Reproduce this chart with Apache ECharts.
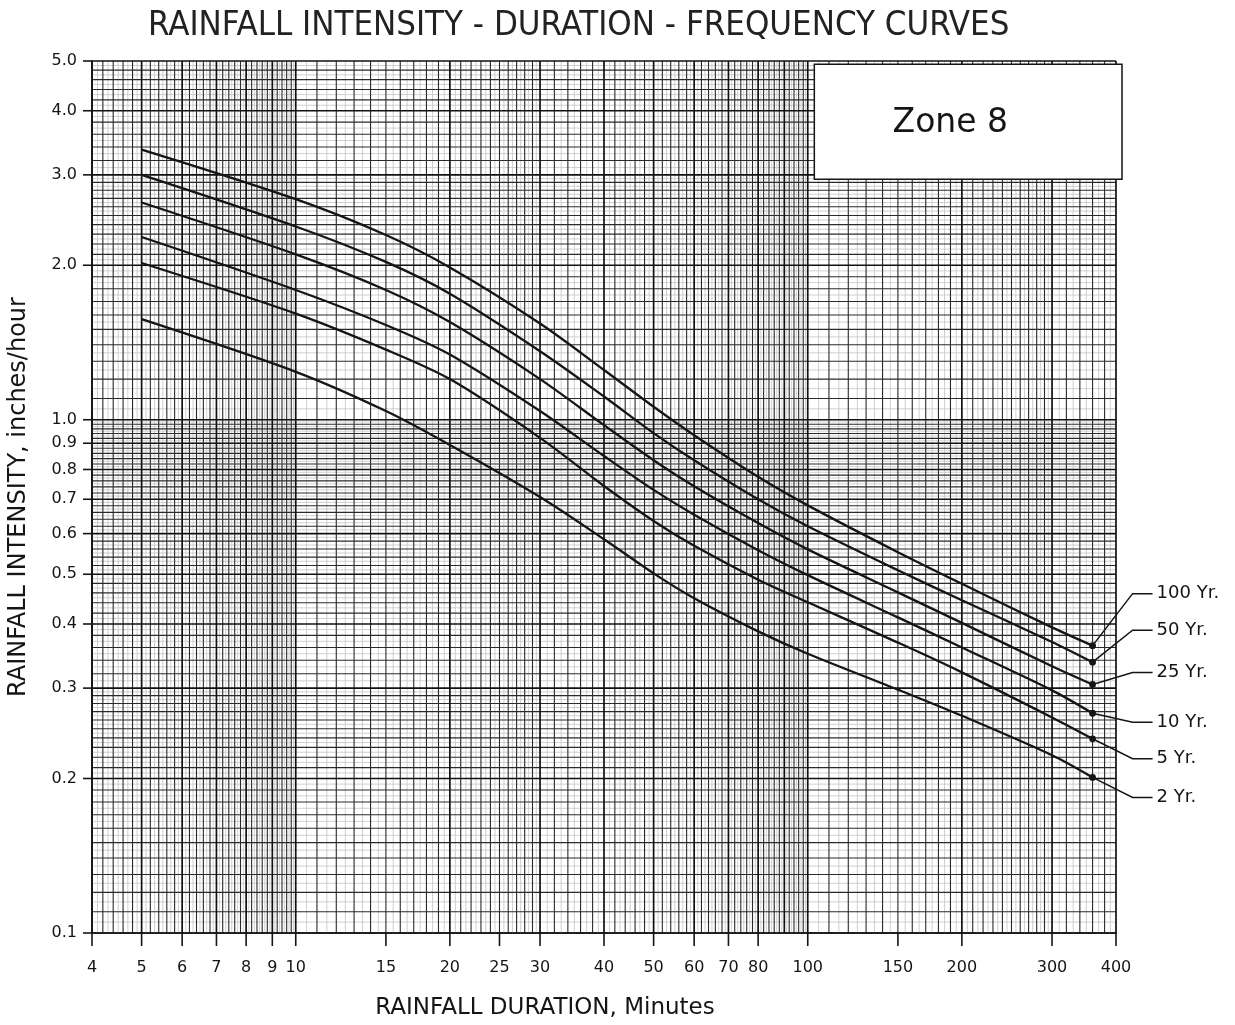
<!DOCTYPE html>
<html>
<head>
<meta charset="utf-8">
<title>Rainfall Intensity - Duration - Frequency Curves, Zone 8</title>
<script src="https://cdn.jsdelivr.net/npm/echarts@6.0.0/dist/echarts.min.js"></script>
<style>
  html, body { margin: 0; padding: 0; background: #fff; }
  #chart { width: 1235px; height: 1025px; }
</style>
</head>
<body>
<div id="chart"></div>
<script>
// durations in minutes, intensities in inches/hour
const durations = [5, 10, 15, 20, 30, 40, 50, 60, 80, 100, 150, 200, 300, 360];
const yr100 = [3.36, 2.69, 2.29, 1.98, 1.54, 1.25, 1.06, 0.933, 0.774, 0.681, 0.552, 0.479, 0.394, 0.363];
const yr50 = [3.00, 2.38, 2.03, 1.76, 1.36, 1.11, 0.942, 0.834, 0.700, 0.620, 0.509, 0.445, 0.369, 0.337];
const yr25 = [2.65, 2.10, 1.79, 1.55, 1.20, 0.976, 0.834, 0.742, 0.629, 0.559, 0.461, 0.402, 0.331, 0.305];
const yr10 = [2.27, 1.79, 1.53, 1.34, 1.04, 0.850, 0.730, 0.653, 0.557, 0.498, 0.412, 0.360, 0.297, 0.268];
const yr5 = [2.02, 1.61, 1.37, 1.20, 0.922, 0.743, 0.635, 0.568, 0.488, 0.441, 0.368, 0.322, 0.263, 0.239];
const yr2 = [1.57, 1.24, 1.04, 0.893, 0.707, 0.585, 0.502, 0.449, 0.387, 0.350, 0.298, 0.265, 0.222, 0.201];

const curveNames = ['100 Yr.', '50 Yr.', '25 Yr.', '10 Yr.', '5 Yr.', '2 Yr.'];
const curveData = [yr100, yr50, yr25, yr10, yr5, yr2];

const xTickValues = [4, 5, 6, 7, 8, 9, 10, 15, 20, 25, 30, 40, 50, 60, 70, 80, 100, 150, 200, 300, 400];
const yTickValues = [0.1, 0.2, 0.3, 0.4, 0.5, 0.6, 0.7, 0.8, 0.9, 1.0, 2.0, 3.0, 4.0, 5.0];

// log graph paper rulings: [from, to, step]
const xRulings = [[4, 10, 0.2], [10, 30, 1], [30, 100, 2], [100, 300, 10], [300, 400, 20]];
const yRulings = [[0.1, 0.3, 0.01], [0.3, 1, 0.02], [1, 3, 0.1], [3, 5, 0.2]];

const zoneBox = { x: [103, 400], y: [2.94, 4.93] };

const X_MIN = 4, X_MAX = 400, Y_MIN = 0.1, Y_MAX = 5;
const INK = '#151515';
const FONT = 'DejaVu Sans';

// leader line offsets for the end labels (px, from the end dot)
const labelDy = [-52, -32, -12, 9, 20, 20];

function rulingValues(bands, div) {
  const out = [];
  bands.forEach(function (b) {
    const step = b[2] / div;
    const n = Math.round((b[1] - b[0]) / step);
    for (let k = 0; k < n; k++) out.push(+(b[0] + k * step).toFixed(5));
  });
  out.push(bands[bands.length - 1][1]);
  return out;
}

function isMajor(v) {
  const m = v / Math.pow(10, Math.floor(Math.log10(v) + 1e-9));
  return Math.abs(m - Math.round(m)) < 1e-6;
}

const xMain = rulingValues(xRulings, 1);
const yMain = rulingValues(yRulings, 1);
const xFaint = rulingValues(xRulings, 2).filter(v => xMain.indexOf(v) < 0);
const yFaint = rulingValues(yRulings, 2).filter(v => yMain.indexOf(v) < 0);

function rulingSeries(values, vertical, color, width, z) {
  return {
    type: 'custom',
    coordinateSystem: 'cartesian2d',
    silent: true,
    clip: false,
    z: z,
    data: values.map(v => vertical ? [v, Y_MIN] : [X_MIN, v]),
    renderItem: function (params, api) {
      let p1, p2;
      if (vertical) {
        p1 = api.coord([api.value(0), Y_MIN]);
        p2 = api.coord([api.value(0), Y_MAX]);
      } else {
        p1 = api.coord([X_MIN, api.value(1)]);
        p2 = api.coord([X_MAX, api.value(1)]);
      }
      return {
        type: 'line',
        shape: { x1: p1[0], y1: p1[1], x2: p2[0], y2: p2[1] },
        style: { stroke: color, lineWidth: width }
      };
    }
  };
}

const series = [];
series.push(rulingSeries(xFaint, true, '#c4c4c4', 0.8, 1));
series.push(rulingSeries(yFaint, false, '#c4c4c4', 0.8, 1));
series.push(rulingSeries(xMain.filter(v => !isMajor(v)), true, '#2a2a2a', 1.1, 2));
series.push(rulingSeries(yMain.filter(v => !isMajor(v)), false, '#2a2a2a', 1.1, 2));
series.push(rulingSeries(xMain.filter(isMajor), true, '#111', 1.7, 2));
series.push(rulingSeries(yMain.filter(isMajor), false, '#111', 1.7, 2));

// zone box
series.push({
  type: 'custom',
  coordinateSystem: 'cartesian2d',
  silent: true,
  clip: false,
  z: 6,
  data: [[zoneBox.x[0], zoneBox.y[1], zoneBox.x[1], zoneBox.y[0]]],
  encode: { x: [0, 2], y: [1, 3] },
  renderItem: function (params, api) {
    const a = api.coord([api.value(0), api.value(1)]);
    const b = api.coord([api.value(2), api.value(3)]);
    return {
      type: 'group',
      children: [
        { type: 'rect', shape: { x: a[0], y: a[1], width: b[0] - a[0] + 6, height: b[1] - a[1] },
          style: { fill: '#fff', stroke: INK, lineWidth: 1.5 } },
        { type: 'text', x: a[0] + 136, y: (a[1] + b[1]) / 2 + 2,
          style: { text: 'Zone 8', fill: INK, font: '33px ' + FONT, align: 'center', verticalAlign: 'middle' } }
      ]
    };
  }
});

// the curves
curveData.forEach(function (arr, i) {
  series.push({
    name: curveNames[i],
    type: 'line',
    z: 4,
    smooth: 0.3,
    symbol: 'none',
    lineStyle: { color: INK, width: 2.3 },
    data: durations.map((d, k) => [d, arr[k]])
  });
});

// end dots + leader lines + labels
series.push({
  type: 'custom',
  coordinateSystem: 'cartesian2d',
  silent: true,
  clip: false,
  z: 5,
  data: curveData.map(arr => [durations[durations.length - 1], arr[arr.length - 1]]),
  renderItem: function (params, api) {
    const p = api.coord([api.value(0), api.value(1)]);
    const dy = labelDy[params.dataIndex];
    return {
      type: 'group',
      children: [
        { type: 'circle', shape: { cx: p[0], cy: p[1], r: 3.4 }, style: { fill: INK } },
        { type: 'polyline', shape: { points: [[p[0], p[1]], [p[0] + 40, p[1] + dy], [p[0] + 60, p[1] + dy]] },
          style: { stroke: INK, lineWidth: 1.5, fill: null } },
        { type: 'text', x: p[0] + 64, y: p[1] + dy,
          style: { text: curveNames[params.dataIndex], fill: INK, font: '18px ' + FONT, align: 'left', verticalAlign: 'middle' } }
      ]
    };
  }
});

// x ticks and labels
series.push({
  type: 'custom',
  coordinateSystem: 'cartesian2d',
  silent: true,
  clip: false,
  z: 5,
  data: xTickValues.map(v => [v, Y_MIN]),
  renderItem: function (params, api) {
    const p = api.coord([api.value(0), Y_MIN]);
    return {
      type: 'group',
      children: [
        { type: 'line', shape: { x1: p[0], y1: p[1], x2: p[0], y2: p[1] + 13 }, style: { stroke: INK, lineWidth: 1.6 } },
        { type: 'text', x: p[0], y: p[1] + 35,
          style: { text: String(xTickValues[params.dataIndex]), fill: INK, font: '16px ' + FONT, align: 'center', verticalAlign: 'middle' } }
      ]
    };
  }
});

// y ticks and labels
series.push({
  type: 'custom',
  coordinateSystem: 'cartesian2d',
  silent: true,
  clip: false,
  z: 5,
  data: yTickValues.map(v => [X_MIN, v]),
  renderItem: function (params, api) {
    const p = api.coord([X_MIN, api.value(1)]);
    return {
      type: 'group',
      children: [
        { type: 'line', shape: { x1: p[0] - 9, y1: p[1], x2: p[0], y2: p[1] }, style: { stroke: INK, lineWidth: 1.6 } },
        { type: 'text', x: p[0] - 15, y: p[1],
          style: { text: yTickValues[params.dataIndex].toFixed(1), fill: INK, font: '16px ' + FONT, align: 'right', verticalAlign: 'middle' } }
      ]
    };
  }
});

const option = {
  backgroundColor: '#fff',
  animation: false,
  title: {
    text: 'RAINFALL INTENSITY - DURATION - FREQUENCY CURVES',
    left: 143,
    top: 4,
    textStyle: { fontFamily: 'DejaVu Sans Condensed', fontSize: 34.5, fontWeight: 'normal', color: '#222' }
  },
  grid: { left: 92, top: 61, width: 1024, height: 872, containLabel: false, outerBoundsMode: 'none' },
  xAxis: {
    type: 'log',
    logBase: 10,
    min: X_MIN,
    max: X_MAX,
    name: 'RAINFALL DURATION, Minutes',
    nameLocation: 'middle',
    nameGap: 64,
    nameTextStyle: { fontFamily: FONT, fontSize: 23, color: INK, padding: [0, 118, 0, 0] },
    axisLine: { show: true, lineStyle: { color: INK, width: 1.6 } },
    axisTick: { show: false },
    axisLabel: { show: false },
    splitLine: { show: false }
  },
  yAxis: {
    type: 'log',
    logBase: 10,
    min: Y_MIN,
    max: Y_MAX,
    name: 'RAINFALL INTENSITY, inches/hour',
    nameLocation: 'middle',
    nameGap: 61,
    nameTextStyle: { fontFamily: FONT, fontSize: 24, color: INK },
    axisLine: { show: true, lineStyle: { color: INK, width: 1.6 } },
    axisTick: { show: false },
    axisLabel: { show: false },
    splitLine: { show: false }
  },
  series: series
};

const chart = echarts.init(document.getElementById('chart'), null, { renderer: 'canvas' });
chart.setOption(option);
</script>
</body>
</html>
